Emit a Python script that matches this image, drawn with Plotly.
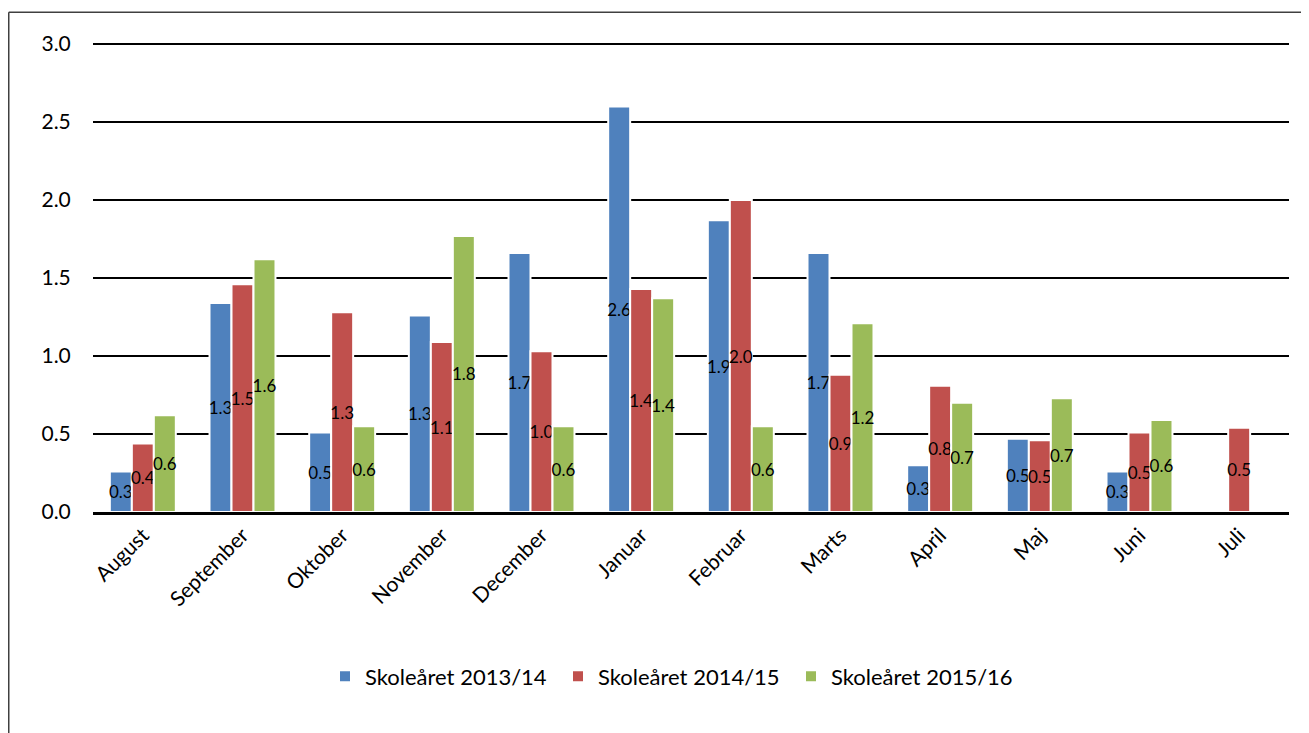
import plotly.graph_objects as go

months = ["August", "September", "Oktober", "November", "December", "Januar",
          "Februar", "Marts", "April", "Maj", "Juni", "Juli"]
s1314 = [0.26, 1.34, 0.51, 1.26, 1.66, 2.60, 1.87, 1.66, 0.30, 0.47, 0.26, None]
s1415 = [0.44, 1.46, 1.28, 1.09, 1.03, 1.43, 2.00, 0.88, 0.81, 0.46, 0.51, 0.54]
s1516 = [0.62, 1.62, 0.55, 1.77, 0.55, 1.37, 0.55, 1.21, 0.70, 0.73, 0.59, None]
series_names = ["Skoleåret 2013/14", "Skoleåret 2014/15", "Skoleåret 2015/16"]
colors = ["#4F81BD", "#C0504D", "#9BBB59"]
y_ticks = [0.0, 0.5, 1.0, 1.5, 2.0, 2.5, 3.0]

FONT = "Lato"

fig = go.Figure()
for name, vals, col in zip(series_names, [s1314, s1415, s1516], colors):
    fig.add_trace(go.Bar(
        x=months, y=vals, name=name,
        marker=dict(color=col, line=dict(color="white", width=2)),
        text=[("%.1f" % v) if v is not None else "" for v in vals],
        textposition="inside", insidetextanchor="middle",
        textangle=0, constraintext="none",
        insidetextfont=dict(color="black", size=17, family=FONT),
        cliponaxis=False,
    ))

# the page body adds an 8px offset, so the figure is sized to the remaining area
W, H = 1301, 725
YMAX = 3.02
unit = 468.3 / 3.0          # px per y unit
L, R = 85, 20
T = 36 - (YMAX - 3.0) * unit
B = H - 504.3
pw, ph = W - L - R, H - T - B

fig.update_layout(
    width=W, height=H,
    margin=dict(l=L, r=R, t=T, b=B),
    paper_bgcolor="white", plot_bgcolor="white",
    barmode="group", bargap=0.338, bargroupgap=0,
    font=dict(family=FONT, size=21, color="black"),
    showlegend=True,
    legend=dict(orientation="h", x=(317 - L) / pw, xanchor="left",
                y=(504.3 - 669) / ph, yanchor="middle",
                font=dict(size=22, family=FONT), itemwidth=30,
                entrywidth=188, entrywidthmode="pixels",
                traceorder="normal"),
    xaxis=dict(tickangle=-45, showgrid=False, showline=True,
               linecolor="black", linewidth=2.5, ticks="",
               tickfont=dict(size=21, family=FONT)),
    yaxis=dict(range=[0, YMAX], tickvals=y_ticks, tickformat=".1f",
               showgrid=True, gridcolor="black", gridwidth=2,
               zeroline=False, showline=False,
               ticks="outside", ticklen=17, tickcolor="rgba(0,0,0,0)",
               tickfont=dict(size=21, family=FONT)),
)

# outer frame (top and left edges of the chart area box)
x_left = (0.75 - L) / pw
y_top = 1 + (T - 4) / ph
fig.add_shape(type="line", xref="paper", yref="paper",
              x0=x_left, x1=1.1, y0=y_top, y1=y_top,
              line=dict(color="#404040", width=1.5))
fig.add_shape(type="line", xref="paper", yref="paper",
              x0=x_left, x1=x_left, y0=y_top, y1=-0.6,
              line=dict(color="#404040", width=1.5))

fig.write_html("out.html")
